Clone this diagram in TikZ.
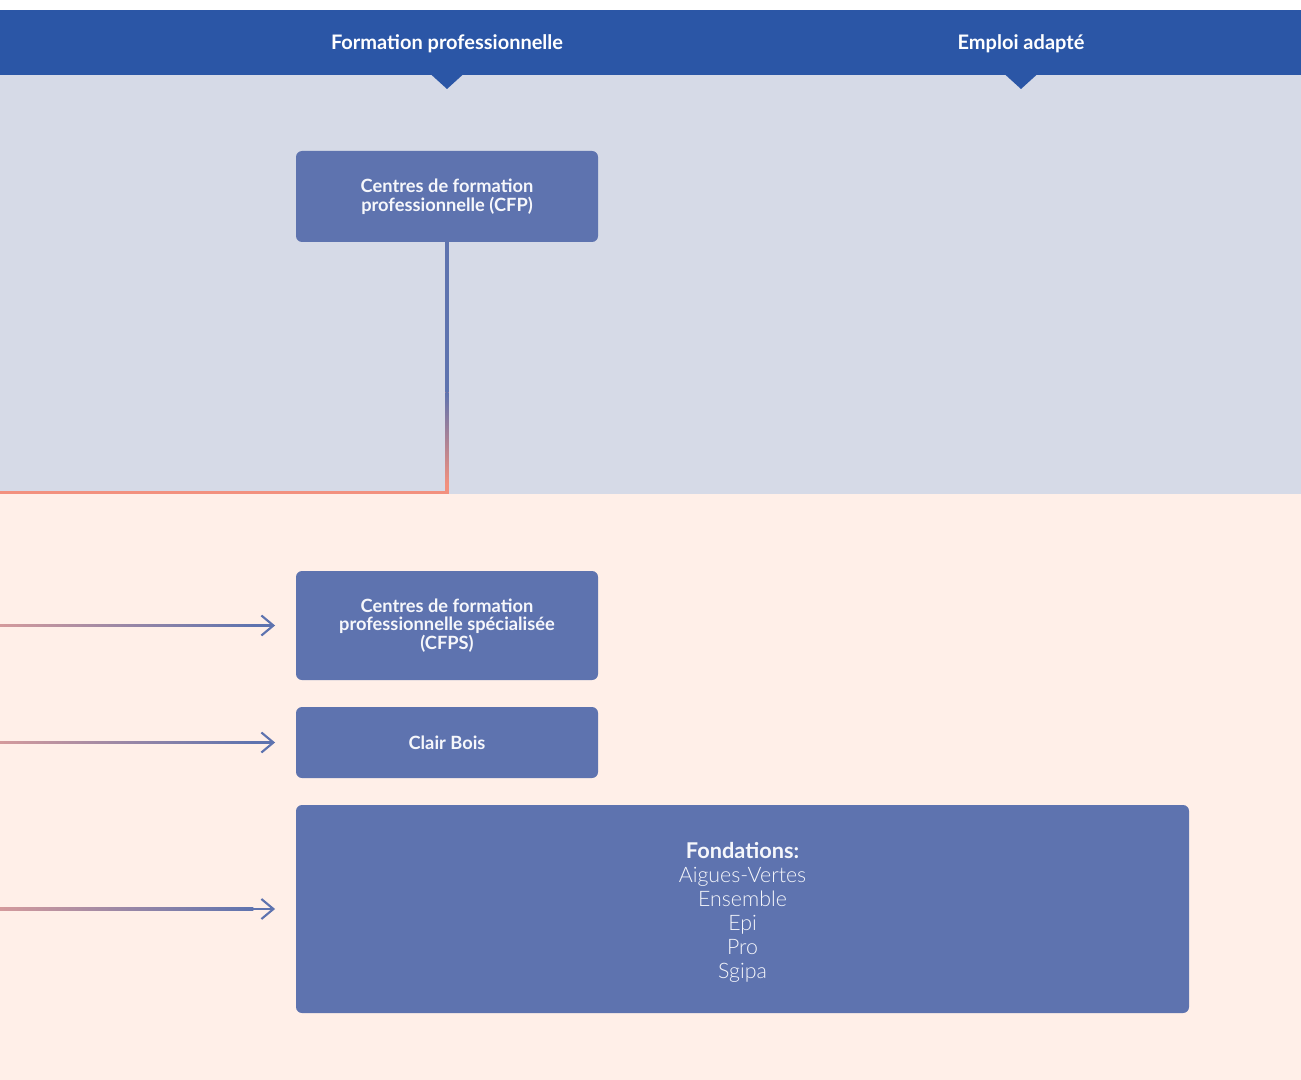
\documentclass[tikz,border=0pt]{standalone}
\usepackage{fontspec}
\setmainfont{Lato}
\newfontfamily\lightfont{Lato Light}
\usetikzlibrary{arrows.meta,positioning}
\definecolor{hdrblue}{HTML}{2B56A6}
\definecolor{bgblue}{HTML}{D6DAE7}
\definecolor{bgpeach}{HTML}{FFEFE8}
\definecolor{boxblue}{HTML}{5E73AF}
\definecolor{lineorange}{HTML}{F2907E}
\definecolor{linepink}{HTML}{D49A9C}
\definecolor{txtwhite}{HTML}{F6F7FB}
\tikzset{
  orgbox/.style={rectangle, rounded corners=4.5pt, fill=boxblue, text=txtwhite,
    align=center, inner sep=0pt, font=\bfseries\fontsize{13.7pt}{14pt}\selectfont},
  hdrtext/.style={text=white, font=\bfseries\fontsize{15pt}{17pt}\selectfont},
  arrline/.style={draw=boxblue, line width=1.6pt,
    -{Straight Barb[length=9pt,width=15pt,line width=1.6pt]}},
  pinkfade/.style={left color=linepink, right color=boxblue},
  vline/.style={line width=2.3pt},
}
\begin{document}
\begin{tikzpicture}[x=0.75pt,y=-0.75pt]
\useasboundingbox (0,0) rectangle (1301,1080);
% backgrounds
\fill[white] (0,0) rectangle (1301,10);
\fill[bgblue] (0,75) rectangle (1301,494);
\fill[bgpeach] (0,494) rectangle (1301,1080);
\fill[hdrblue] (0,10) rectangle (1301,75);
\fill[hdrblue] (430.5,74) -- (463.5,74) -- (447,89) -- cycle;
\fill[hdrblue] (1004.5,74) -- (1037.5,74) -- (1021,89) -- cycle;
% header labels
\node[hdrtext] (h1) at (447,43.5) {Formation professionnelle};
\node[hdrtext] (h2) at (1021,43.5) {Emploi adapté};
% boxes
\node[orgbox, minimum width=226.5pt, minimum height=68.25pt] (cfp) at (447,196.5)
  {Centres de formation\\professionnelle (CFP)};
\node[orgbox, minimum width=226.5pt, minimum height=81.75pt] (cfps) at (447,625.5)
  {Centres de formation\\professionnelle spécialisée\\(CFPS)};
\node[orgbox, minimum width=226.5pt, minimum height=53.25pt] (cb) at (447,742.5)
  {Clair Bois};
\node[orgbox, minimum width=669.75pt, minimum height=156pt,
  font=\fontsize{16pt}{18pt}\selectfont] (fond) at (742.5,909)
  {\rule{0pt}{17pt}{\bfseries\fontsize{16.3pt}{18pt}\selectfont Fondations:}\\
   {\lightfont Aigues-Vertes}\\{\lightfont Ensemble}\\{\lightfont Epi}\\{\lightfont Pro}\\{\lightfont Sgipa}};
% vertical connector CFP -> orange line
\coordinate (o1) at (0,492.5);
\coordinate (v1) at (447,392);
\coordinate (v2) at (447,484);
\draw[lineorange, vline] (cfp.south) |- (o1);
\draw[boxblue, vline] (cfp.south) -- (v1);
\shade[top color=boxblue, bottom color=lineorange]
  ([xshift=-1.15pt]v1) rectangle ([xshift=1.15pt]v2);
% arrows
\coordinate (a1) at (0,625.5);
\coordinate (a2) at (0,742.5);
\coordinate (a3) at (0,909);
\foreach \s/\t in {a1/cfps, a2/cb, a3/fond}{
  \draw[arrline] (\s) -- ([xshift=-15.5pt]\t.west |- \s);
  \shade[pinkfade] ([yshift=0.8pt]\s) rectangle ([xshift=190pt,yshift=-0.8pt]\s);
}
\end{tikzpicture}
\end{document}
